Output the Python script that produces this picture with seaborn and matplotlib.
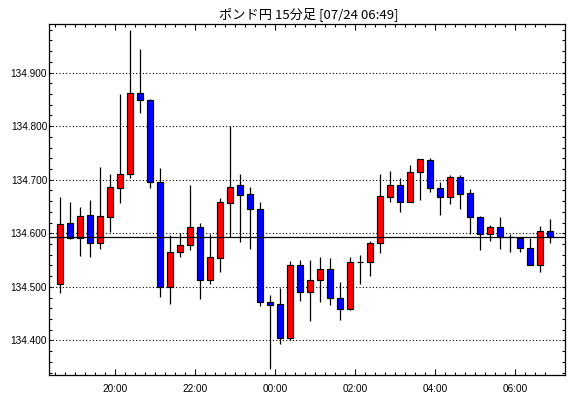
import matplotlib
matplotlib.use("Agg")
import matplotlib.pyplot as plt
from matplotlib.ticker import FixedLocator, MultipleLocator, FuncFormatter
import seaborn as sns
import numpy as np

sns.set_style("ticks")
plt.rcParams["font.family"] = ["Liberation Sans", "DejaVu Sans"]

# ---- data (15-minute candles, GBP/JPY) ----
times = ["18:30", "18:45", "19:00", "19:15", "19:30", "19:45", "20:00", "20:15", "20:30", "20:45",
         "21:00", "21:15", "21:30", "21:45", "22:00", "22:15", "22:30", "22:45", "23:00", "23:15",
         "23:30", "23:45", "00:00", "00:15", "00:30", "00:45", "01:00", "01:15", "01:30", "01:45",
         "02:00", "02:15", "02:30", "02:45", "03:00", "03:15", "03:30", "03:45", "04:00", "04:15",
         "04:30", "04:45", "05:00", "05:15", "05:30", "05:45", "06:00", "06:15", "06:30", "06:45"]
opens = [134.505, 134.619, 134.591, 134.634, 134.581, 134.631, 134.685, 134.710, 134.862, 134.848,
         134.695, 134.500, 134.566, 134.579, 134.611, 134.513, 134.553, 134.657, 134.690, 134.673,
         134.645, 134.471, 134.469, 134.404, 134.540, 134.490, 134.512, 134.533, 134.479, 134.458,
         134.547, 134.547, 134.581, 134.668, 134.690, 134.659, 134.714, 134.736, 134.684, 134.668,
         134.705, 134.675, 134.630, 134.598, 134.611, 134.593, 134.592, 134.572, 134.540, 134.604]
highs = [134.668, 134.659, 134.649, 134.662, 134.724, 134.711, 134.860, 134.979, 134.943, 134.851,
         134.722, 134.597, 134.600, 134.690, 134.619, 134.599, 134.666, 134.800, 134.710, 134.686,
         134.658, 134.484, 134.498, 134.548, 134.551, 134.551, 134.555, 134.553, 134.510, 134.555,
         134.560, 134.586, 134.711, 134.717, 134.703, 134.728, 134.738, 134.741, 134.696, 134.709,
         134.709, 134.683, 134.632, 134.616, 134.631, 134.599, 134.594, 134.591, 134.614, 134.627]
lows = [134.489, 134.589, 134.558, 134.556, 134.571, 134.602, 134.657, 134.703, 134.825, 134.685,
        134.482, 134.469, 134.556, 134.569, 134.478, 134.506, 134.528, 134.594, 134.584, 134.571,
        134.465, 134.347, 134.393, 134.401, 134.474, 134.437, 134.471, 134.466, 134.439, 134.456,
        134.505, 134.521, 134.564, 134.659, 134.639, 134.659, 134.663, 134.678, 134.635, 134.654,
        134.646, 134.599, 134.569, 134.586, 134.571, 134.566, 134.566, 134.540, 134.528, 134.581]
closes = [134.617, 134.591, 134.632, 134.581, 134.632, 134.686, 134.710, 134.862, 134.848, 134.695,
          134.500, 134.565, 134.579, 134.611, 134.513, 134.555, 134.658, 134.686, 134.672, 134.645,
          134.471, 134.467, 134.404, 134.540, 134.490, 134.512, 134.533, 134.480, 134.458, 134.546,
          134.546, 134.581, 134.670, 134.690, 134.659, 134.715, 134.738, 134.684, 134.667, 134.705,
          134.674, 134.630, 134.598, 134.611, 134.593, 134.593, 134.572, 134.540, 134.604, 134.593]
hour_labels = ["20:00", "22:00", "00:00", "02:00", "04:00", "06:00"]
title = "ポンド円 15分足 [07/24 06:49]"

UP, DOWN = "#FF0000", "#0000FF"

fig = plt.figure(figsize=(5.70, 3.98), dpi=100)
ax = fig.add_axes([49.3 / 570, 23.0 / 398, 516.0 / 570, 350.7 / 398])

x = np.arange(len(times))
o = np.array(opens); h = np.array(highs); l = np.array(lows); c = np.array(closes)
colors = [UP if cc >= oo else DOWN for oo, cc in zip(o, c)]

# wicks
ax.vlines(x, l, h, color="black", linewidth=0.9, zorder=2)
# bodies
ax.bar(x, np.abs(c - o), bottom=np.minimum(o, c), width=0.62, color=colors,
       edgecolor="black", linewidth=0.85, zorder=3)

# current price line
ax.axhline(closes[-1], color="black", linewidth=0.9, zorder=4)

ax.set_xlim(-1.1, 50.5)
ax.set_ylim(134.3356, 134.990)

# y grid / ticks
ax.yaxis.set_major_locator(MultipleLocator(0.1))
ax.yaxis.set_minor_locator(MultipleLocator(0.02))
ax.yaxis.set_major_formatter(FuncFormatter(lambda v, p: f"{v:.3f}"))
ax.grid(axis="y", which="major", color="black", linestyle=(0, (1, 2)), linewidth=0.8, zorder=1)
ax.grid(axis="x", visible=False)

# x ticks
major_pos = [times.index(t) - 0.5 for t in hour_labels]
ax.xaxis.set_major_locator(FixedLocator(major_pos))
ax.set_xticklabels(hour_labels)
ax.xaxis.set_minor_locator(FixedLocator(list(x - 0.5)))

ax.tick_params(axis="both", which="both", direction="in", top=True, right=True,
               color="black", width=0.8, labelsize=7.2, labelcolor="black")
ax.tick_params(axis="x", which="major", length=4.0, pad=6.5)
ax.tick_params(axis="x", which="minor", length=2.0)
ax.tick_params(axis="y", which="both", length=2.3, pad=1.5)

for s in ax.spines.values():
    s.set_color("black")
    s.set_linewidth(0.9)
ax.set_facecolor("white")
ax.set_xlabel("")
ax.set_ylabel("")

fig.text(309 / 570, 1 - 14 / 398, title, ha="center", va="center", fontsize=9.5,
         family=["Noto Sans CJK JP", "DejaVu Sans"], color="black")

fig.savefig("out.png", dpi=100, facecolor="white")
